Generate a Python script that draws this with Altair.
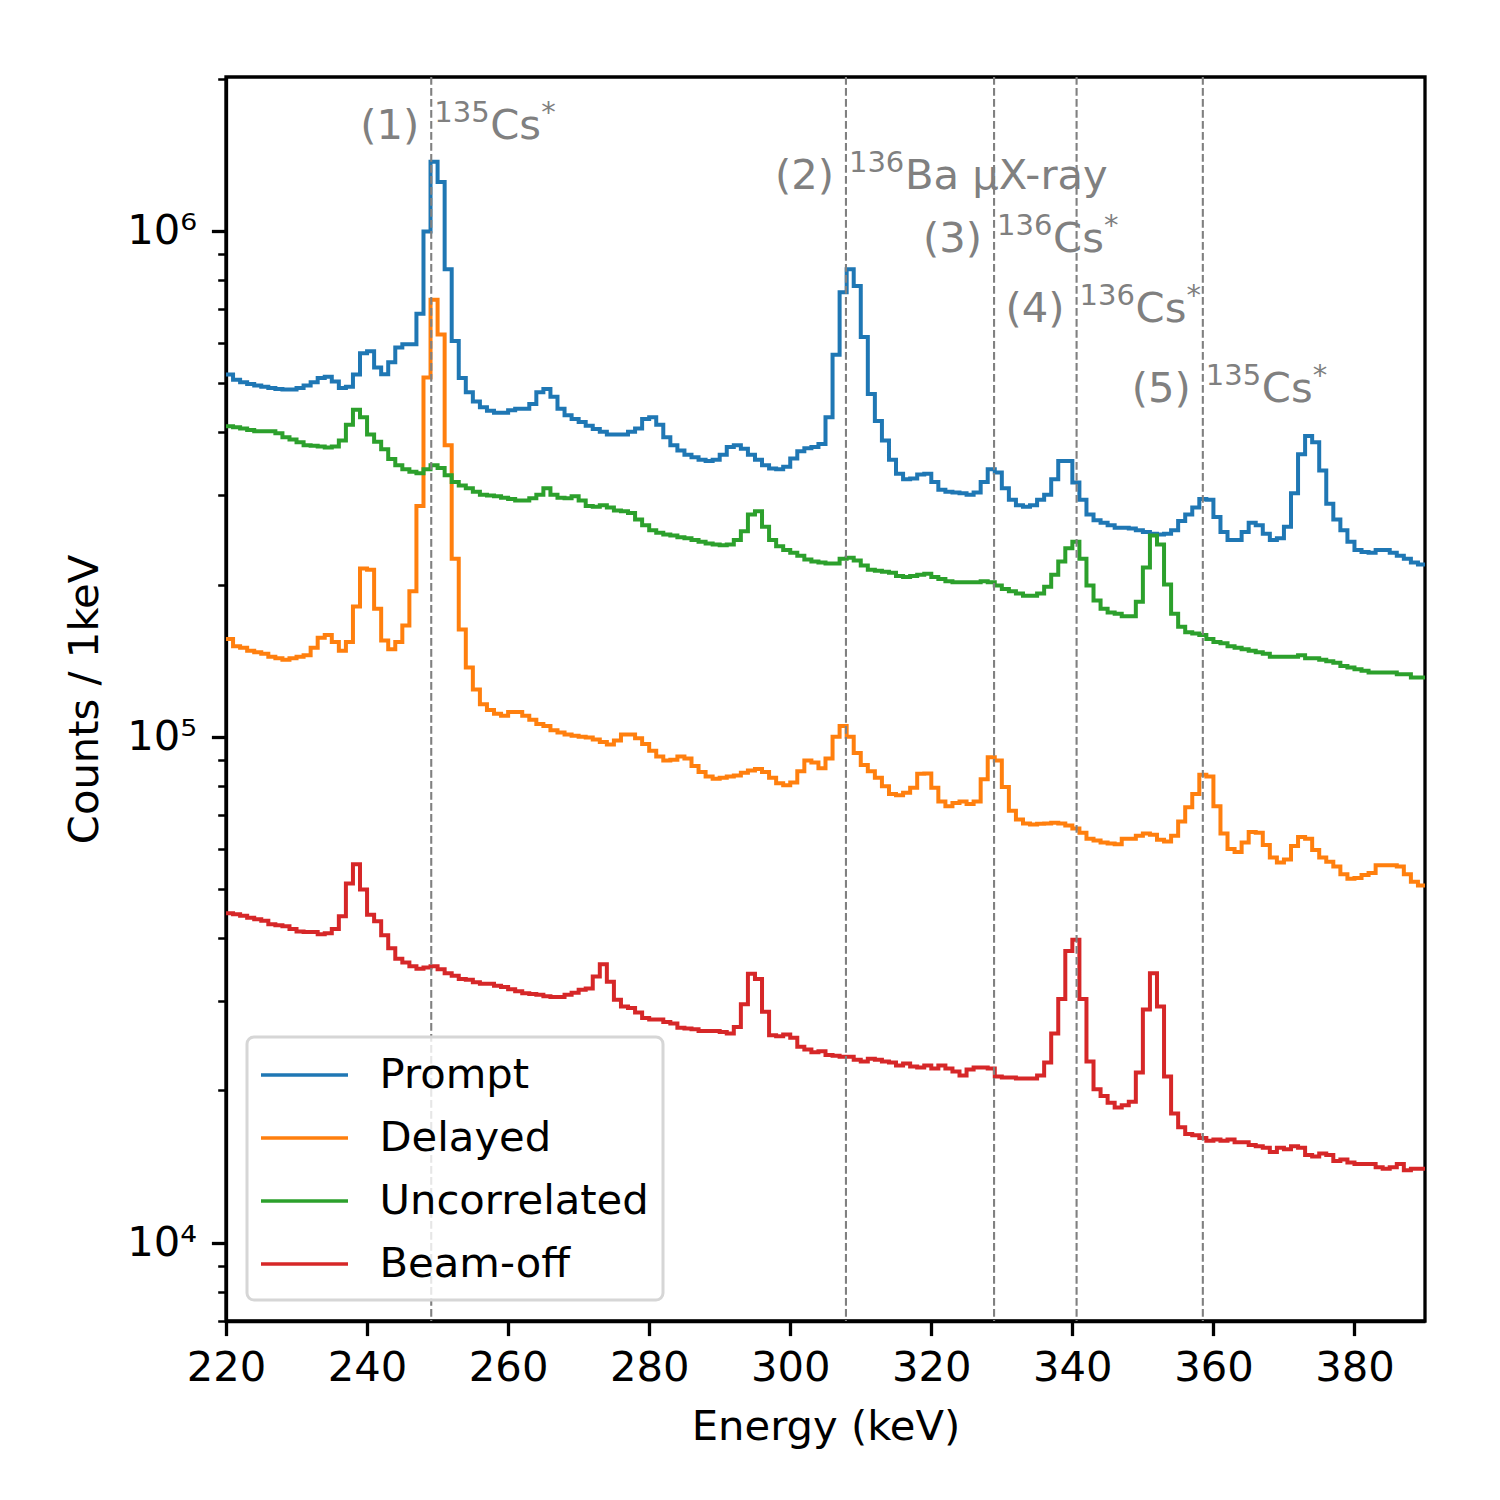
import altair as alt
import pandas as pd

# ---------------- data (1 keV bins, left edges 220 ... 389 keV) ----------------
bin_start = 220
bin_end = 390
series_names = ["Prompt", "Delayed", "Uncorrelated", "Beam-off"]
series_colors = ["#1f77b4", "#ff7f0e", "#2ca02c", "#d62728"]

prompt = [
    520000, 508000, 502000, 498000, 495000, 492000, 489000, 487000, 486000, 486000,
    489000, 495000, 502000, 512000, 515000, 504000, 489000, 492000, 520000, 573000,
    578000, 537000, 521000, 550000, 588000, 597000, 597000, 686000, 997000, 1370000,
    1250000, 840000, 606000, 512000, 480000, 460000, 448000, 441000, 437000, 437000,
    442000, 445000, 445000, 455000, 480000, 487000, 470000, 445000, 432000, 425000,
    419000, 412000, 406000, 401000, 396000, 396000, 396000, 401000, 407000, 425000,
    428000, 414000, 391000, 377000, 368000, 361000, 357000, 353000, 351000, 353000,
    361000, 374000, 377000, 371000, 361000, 353000, 344000, 339000, 338000, 342000,
    355000, 367000, 372000, 374000, 379000, 428000, 569000, 756000, 840000, 778000,
    617000, 476000, 421000, 385000, 353000, 331000, 323000, 324000, 330000, 331000,
    319000, 308000, 305000, 304000, 303000, 301000, 304000, 319000, 338000, 333000,
    310000, 294000, 287000, 285000, 287000, 294000, 301000, 323000, 351000, 351000,
    318000, 294000, 275000, 268000, 265000, 262000, 259000, 259000, 258000, 256000,
    254000, 252000, 251000, 252000, 256000, 267000, 275000, 284000, 295000, 294000,
    272000, 254000, 245000, 245000, 254000, 265000, 262000, 252000, 245000, 247000,
    260000, 303000, 362000, 393000, 382000, 336000, 289000, 269000, 256000, 243000,
    234000, 232000, 231000, 234000, 234000, 231000, 228000, 225000, 221000, 219000,
]

delayed = [
    156000, 151000, 150000, 148000, 147000, 146000, 144000, 143000, 142000, 143000,
    144000, 145000, 150000, 157000, 159000, 154000, 148000, 154000, 181000, 215000,
    214000, 179000, 155000, 149000, 154000, 166000, 194000, 286000, 513000, 731000,
    624000, 377000, 225000, 163000, 137000, 124000, 116000, 113000, 111000, 110000,
    112000, 112000, 110000, 108000, 106000, 105000, 103000, 102000, 101000, 100500,
    100000, 99700, 98800, 97600, 96600, 98300, 101000, 101000, 99300, 96800,
    93800, 91400, 89800, 90100, 91400, 90600, 87500, 85200, 83500, 82600,
    83000, 83500, 83800, 84900, 85800, 86400, 85200, 83000, 80900, 80200,
    81200, 85500, 89800, 89000, 86700, 90600, 100000, 105000, 100000, 92900,
    87900, 85500, 83000, 79800, 77100, 76600, 77500, 79300, 84500, 84600,
    79300, 74500, 72900, 74000, 74500, 73600, 74500, 82400, 91100, 89800,
    79600, 71400, 68600, 67400, 67100, 67300, 67400, 67600, 67400, 66800,
    65900, 64600, 62900, 62400, 61800, 61500, 61300, 62900, 62900, 63700,
    64400, 64000, 62600, 62100, 63700, 68000, 72600, 77100, 84100, 83500,
    72900, 64400, 60000, 59200, 61800, 64800, 64600, 61100, 57700, 56400,
    57200, 60800, 63400, 62900, 59700, 57700, 56600, 55400, 53500, 52400,
    52600, 53300, 53800, 55700, 55700, 55700, 55400, 53500, 51700, 50800,
]

uncorrelated = [
    411000, 409000, 407000, 404000, 402000, 402000, 402000, 398000, 391000, 387000,
    382000, 377000, 376000, 375000, 373000, 375000, 385000, 414000, 443000, 428000,
    396000, 383000, 370000, 354000, 344000, 338000, 334000, 332000, 338000, 344000,
    340000, 329000, 319000, 314000, 310000, 305000, 301000, 300000, 299000, 297000,
    295000, 293000, 293000, 296000, 301000, 310000, 301000, 297000, 296000, 299000,
    293000, 286000, 285000, 287000, 284000, 280000, 279000, 277000, 269000, 262000,
    256000, 253000, 251000, 250000, 248000, 247000, 245000, 243000, 241000, 240000,
    239000, 240000, 245000, 255000, 275000, 279000, 260000, 245000, 238000, 234000,
    231000, 228000, 224000, 222000, 221000, 220000, 220000, 225000, 226000, 223000,
    218000, 214000, 213000, 212000, 211000, 208000, 207000, 208000, 209000, 210000,
    207000, 205000, 203000, 202000, 202000, 202000, 202000, 203000, 202000, 199000,
    196000, 194000, 192000, 190000, 190000, 192000, 198000, 209000, 222000, 236000,
    243000, 225000, 199000, 186000, 179000, 176000, 175000, 173000, 173000, 185000,
    216000, 250000, 240000, 200000, 175000, 165000, 161000, 160000, 159000, 156000,
    154000, 153000, 151000, 150000, 149000, 148000, 147000, 146000, 144000, 144000,
    144000, 144000, 145000, 143000, 143000, 142000, 141000, 140000, 138000, 137000,
    136000, 135000, 134000, 134000, 134000, 134000, 133000, 133000, 131000, 131000,
]

beam_off = [
    44800, 44600, 44300, 43900, 43600, 43300, 42600, 42400, 42200, 41700,
    41200, 41100, 41100, 40700, 40900, 41700, 44200, 51300, 56000, 49900,
    44500, 43200, 40500, 38200, 36400, 35800, 35200, 34800, 35000, 35200,
    34700, 34100, 33700, 33200, 33100, 32700, 32500, 32500, 32200, 32000,
    31700, 31400, 31100, 31000, 30900, 30700, 30600, 30600, 30900, 31200,
    31600, 31800, 33600, 35500, 32800, 30200, 29300, 29100, 28500, 27800,
    27600, 27600, 27300, 27100, 26600, 26500, 26400, 26200, 26200, 26200,
    26100, 25900, 26700, 29600, 34000, 33200, 28600, 25700, 25600, 25800,
    25400, 24400, 24100, 23800, 23900, 23500, 23400, 23300, 23300, 23000,
    22800, 23100, 23000, 22800, 22700, 22400, 22600, 22300, 22200, 22400,
    22100, 22400, 22100, 21800, 21400, 22000, 22200, 22200, 22100, 21300,
    21200, 21200, 21100, 21100, 21100, 21400, 22700, 25900, 30300, 37700,
    39700, 30300, 22800, 20100, 19500, 18900, 18500, 18700, 19000, 21700,
    28900, 34100, 29300, 21300, 18000, 16900, 16400, 16300, 16100, 15900,
    16000, 15900, 16000, 15800, 15800, 15600, 15500, 15400, 15100, 15400,
    15300, 15500, 15400, 14900, 14800, 15000, 14900, 14500, 14600, 14400,
    14300, 14300, 14300, 14100, 14000, 14100, 14300, 13900, 14000, 14000,
]

# marker lines and their labels
line_energies = [249.1, 307.9, 328.9, 340.6, 358.5]
label_num = ["(1)", "(2)", "(3)", "(4)", "(5)"]
label_mass = ["135", "136", "136", "136", "135"]
label_name = ["Cs", "Ba μX-ray", "Cs", "Cs", "Cs"]
label_star = ["*", "", "*", "*", "*"]
label_counts = [1.52e6, 1.21e6, 9.1e5, 6.6e5, 4.6e5]

x_ticks = [220, 240, 260, 280, 300, 320, 340, 360, 380]
y_major = [1e4, 1e5, 1e6]
y_minor = [7e3, 8e3, 9e3, 2e4, 3e4, 4e4, 5e4, 6e4, 7e4, 8e4, 9e4,
           2e5, 3e5, 4e5, 5e5, 6e5, 7e5, 8e5, 9e5, 2e6]

# ---------------- tables ----------------
rows = []
for name, vals in zip(series_names, [prompt, delayed, uncorrelated, beam_off]):
    for i, v in enumerate(vals):
        rows.append({"series": name, "energy": bin_start + i, "counts": v})
    rows.append({"series": name, "energy": bin_end, "counts": vals[-1]})
hist_df = pd.DataFrame(rows)

lab_df = pd.DataFrame({
    "energy": line_energies, "counts": label_counts, "num": label_num,
    "mass": label_mass, "name": label_name, "star": label_star,
})
star_df = lab_df[lab_df["star"] != ""]

FONT = "DejaVu Sans"
FS = 41.7
GRAY = "#808080"

x_scale = alt.Scale(domain=[bin_start, bin_end], nice=False, zero=False)
y_scale = alt.Scale(type="log", domain=[7000, 2.015e6], nice=False)

major_test = "datum.value == 10000 || datum.value == 100000 || datum.value == 1000000"

lines = alt.Chart(hist_df).mark_line(interpolate="step-after", strokeWidth=4.0).encode(
    x=alt.X("energy:Q", scale=x_scale,
            axis=alt.Axis(values=x_ticks, title="Energy (keV)", tickSize=14.6,
                          tickWidth=3.3, labelPadding=12, titlePadding=17,
                          labelFlush=False, format="d")),
    y=alt.Y("counts:Q", scale=y_scale,
            axis=alt.Axis(values=y_major + y_minor, title="Counts / 1keV",
                          tickSize={"condition": {"test": major_test, "value": 14.6}, "value": 8.3},
                          tickWidth={"condition": {"test": major_test, "value": 3.3}, "value": 2.5},
                          labelExpr="datum.value == 10000 ? '10⁴' : datum.value == 100000 ? '10⁵' : datum.value == 1000000 ? '10⁶' : ''",
                          labelPadding=15, titlePadding=20, labelFlush=False)),
    color=alt.Color("series:N",
                    scale=alt.Scale(domain=series_names, range=series_colors),
                    legend=alt.Legend(title=None, orient="bottom-left", offset=21,
                                      symbolType="M-2,0H2", symbolSize=1892,
                                      symbolStrokeWidth=3.6, symbolOffset=19.5,
                                      labelFontSize=FS, labelFont=FONT,
                                      labelOffset=51, labelLimit=600,
                                      padding=14, rowPadding=17,
                                      strokeColor="#d6d6d6", cornerRadius=7,
                                      fillColor="rgba(255,255,255,0.8)")),
)

rules = alt.Chart(lab_df).mark_rule(color=GRAY, strokeWidth=2.1,
                                    strokeDash=[7.7, 3.3]).encode(x="energy:Q")

txt_num = alt.Chart(lab_df).mark_text(align="right", baseline="alphabetic", dx=-12,
                                      fontSize=FS, font=FONT, color=GRAY).encode(
    x="energy:Q", y="counts:Q", text="num:N")
txt_mass = alt.Chart(lab_df).mark_text(align="left", baseline="alphabetic", dx=3, dy=-17,
                                       fontSize=29, font=FONT, color=GRAY).encode(
    x="energy:Q", y="counts:Q", text="mass:N")
txt_name = alt.Chart(lab_df).mark_text(align="left", baseline="alphabetic", dx=59,
                                       fontSize=FS, font=FONT, color=GRAY).encode(
    x="energy:Q", y="counts:Q", text="name:N")
txt_star = alt.Chart(star_df).mark_text(align="left", baseline="alphabetic", dx=110, dy=-17,
                                        fontSize=29, font=FONT, color=GRAY).encode(
    x="energy:Q", y="counts:Q", text="star:N")

chart = alt.layer(lines, rules, txt_num, txt_mass, txt_name, txt_star).properties(
    width=1199, height=1244,
    padding={"left": 56, "top": 67, "right": 5, "bottom": 5},
).configure(font=FONT).configure_view(
    stroke="black", strokeWidth=3.3
).configure_axis(
    grid=False, domainColor="black", domainWidth=3.3, tickColor="black",
    labelColor="black", titleColor="black", labelFontSize=FS, titleFontSize=FS,
    labelFont=FONT, titleFont=FONT, titleFontWeight="normal",
).configure_legend(strokeWidth=3)

chart.save("out.html", embed_options={"renderer": "svg", "actions": False})
